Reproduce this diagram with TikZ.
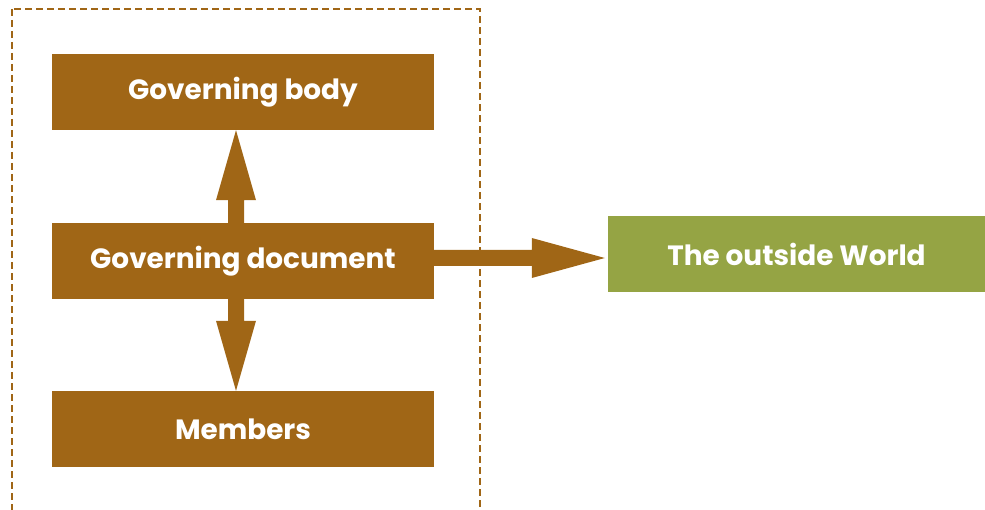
\documentclass[tikz,border=0pt]{standalone}
\usepackage{fontspec}
\setmainfont{Poppins}
\usetikzlibrary{calc}
\definecolor{ochre}{HTML}{A06616}
\definecolor{olive}{HTML}{95A444}
\begin{document}
\begin{tikzpicture}[x=1bp,y=-1bp,
  box/.style={fill=#1,minimum width=382bp,minimum height=76bp,inner sep=0pt,
    text=white,font=\fontsize{28}{28}\selectfont\bfseries}]
\useasboundingbox (0,0) rectangle (985,510);
\begin{scope}
  \clip (0,0) rectangle (985,510);
  % dashed frame around the organisation
  \draw[ochre,line width=2.6bp,dash pattern=on 7bp off 4bp] (12,9) rectangle (480,530);
\end{scope}
\node[box=ochre] (gb) at (243,92) {Governing body};
\node[box=ochre] (doc) at (243,261) {Governing document};
\node[box=ochre] (mem) at (243,429) {Members};
\node[box=olive,minimum width=377bp] (ow) at (796.5,254) {The outside World};
% block arrows: shaft 16 wide, head 40 wide and 70 long
\coordinate (up) at ($(gb.south)+(-7,0)$);
\fill[ochre] ($(doc.north -| up)+(-8,0)$) -- ($(up)+(-8,70)$) -- ($(up)+(-20,70)$)
  -- (up) -- ($(up)+(20,70)$) -- ($(up)+(8,70)$) -- ($(doc.north -| up)+(8,0)$) -- cycle;
\coordinate (dn) at ($(mem.north)+(-7,0)$);
\fill[ochre] ($(doc.south -| dn)+(-8,0)$) -- ($(dn)+(-8,-70)$) -- ($(dn)+(-20,-70)$)
  -- (dn) -- ($(dn)+(20,-70)$) -- ($(dn)+(8,-70)$) -- ($(doc.south -| dn)+(8,0)$) -- cycle;
\coordinate (rt) at ($(ow.west)+(-3,4)$);
\fill[ochre] ($(doc.east |- rt)+(0,-8)$) -- ($(rt)+(-73,-8)$) -- ($(rt)+(-73,-20)$)
  -- (rt) -- ($(rt)+(-73,20)$) -- ($(rt)+(-73,8)$) -- ($(doc.east |- rt)+(0,8)$) -- cycle;
\end{tikzpicture}
\end{document}
